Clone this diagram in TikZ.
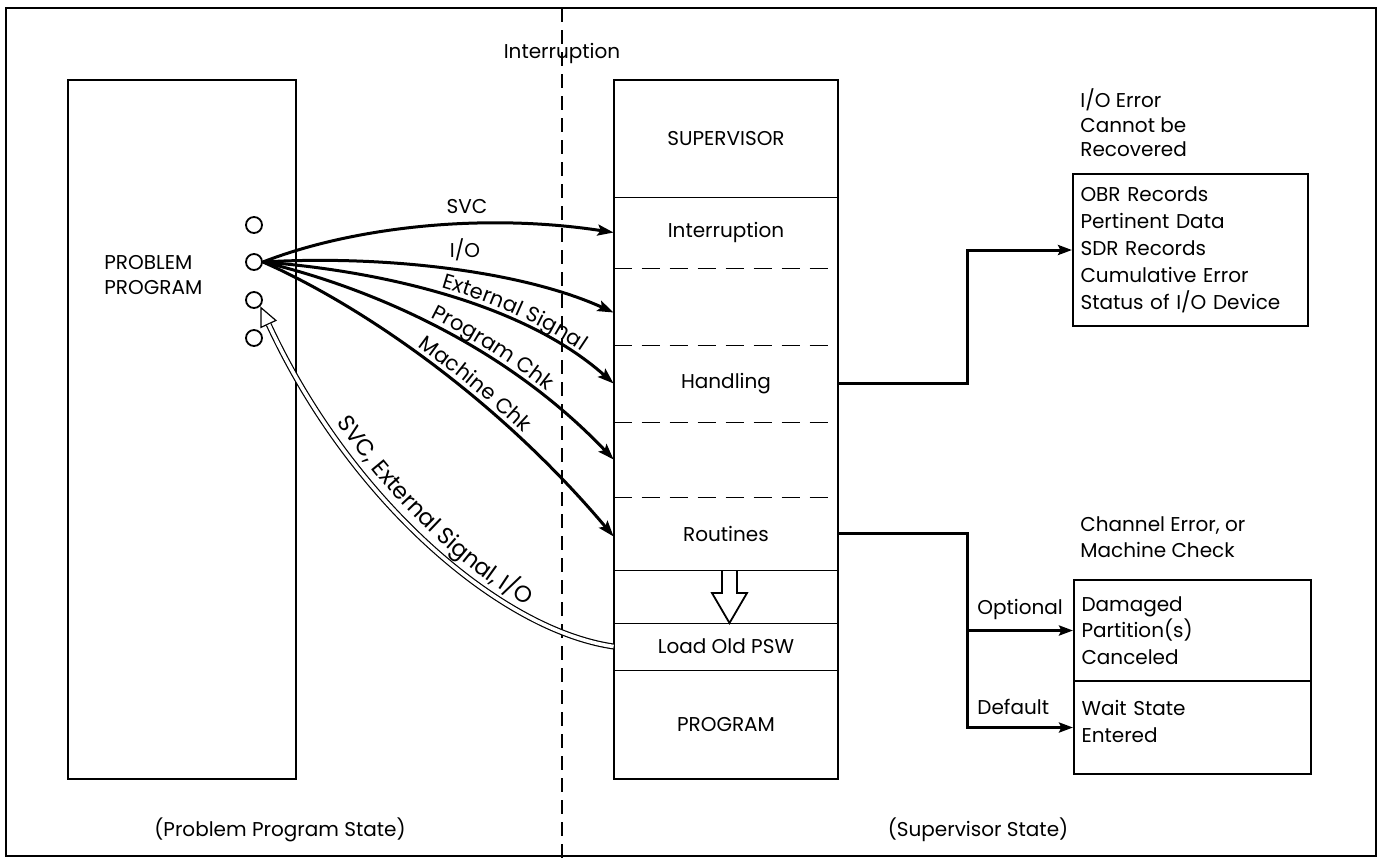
\documentclass[tikz,border=0pt]{standalone}
\usepackage{fontspec}
\setmainfont{Poppins}
\usetikzlibrary{arrows.meta,decorations.text}

\newcommand\labfont{\fontsize{10}{12.2}\selectfont}
\newcommand\curvefont{\fontsize{10.5}{12}\selectfont}
\newcommand\retfont{\fontsize{11.5}{13}\selectfont}

\tikzset{
  lab/.style={font=\labfont, inner sep=0pt},
  band/.style={lab, minimum width=112pt, anchor=center},
  sep/.style={line width=0.9pt},
  dsep/.style={line width=0.9pt, dash pattern=on 9pt off 5pt},
  flow/.style={line width=1.5pt, -{Stealth[length=8pt,width=5.5pt,inset=1.5pt]}},
  conn/.style={line width=1.5pt},
  tip/.style={-{Stealth[length=7pt,width=5pt,inset=1.2pt]}},
  port/.style={circle, draw, line width=0.9pt, minimum size=8pt, inner sep=0pt},
  box/.style={draw, line width=1pt},
  textbox/.style={box, anchor=north west, align=left, inner xsep=3.5pt, font=\labfont},
  curvelabel/.style={decorate, decoration={text along path, text align={left, left indent=#1}, raise=3pt}},
}

\begin{document}
\begin{tikzpicture}[x=0.5pt, y=-0.5pt]
\useasboundingbox (0,0) rectangle (1382,859);

% outer frame and the state divider
\draw[line width=1.2pt] (6,8) rectangle (1376,856);
\draw[line width=1pt, dash pattern=on 7pt off 4pt] (562,8) -- (562,859);
\node[lab] (tint) at (562,53) {Interruption};

% problem program
\node[box, minimum width=114pt, minimum height=349.5pt] (pp) at (182,429.5) {};
\node[lab, align=left, anchor=west] (ppt) at (104,275) {PROBLEM\\PROGRAM};
\node[port] (c1) at (254,225) {};
\node[port] (c2) at (254,262) {};
\node[port] (c3) at (254,300) {};
\node[port] (c4) at (254,338) {};

% supervisor stack
\node[band, minimum height=58.5pt] (bsup)  at (726,138.5) {SUPERVISOR};
\node[band, minimum height=35.5pt] (bint)  at (726,232.5) {Interruption};
\node[band, minimum height=38.5pt] (bio)   at (726,306.5) {};
\node[band, minimum height=38.5pt] (bhand) at (726,383.5) {Handling};
\node[band, minimum height=37.5pt] (bpc)   at (726,459.5) {};
\node[band, minimum height=36.5pt] (brout) at (726,533.5) {Routines};
\node[band, minimum height=26.5pt] (bgap)  at (726,596.5) {};
\node[band, minimum height=23.5pt] (bpsw)  at (726,646.5) {Load Old PSW};
\node[band, minimum height=54.5pt] (bprog) at (726,724.5) {PROGRAM};

\draw[box] (bsup.north west) rectangle (bprog.south east);
\draw[sep]  (bsup.south west)  -- (bsup.south east);
\draw[dsep] (bint.south west)  -- (bint.south east);
\draw[dsep] (bio.south west)   -- (bio.south east);
\draw[dsep] (bhand.south west) -- (bhand.south east);
\draw[dsep] (bpc.south west)   -- (bpc.south east);
\draw[sep]  (brout.south west) -- (brout.south east);
\draw[sep]  (bgap.south west)  -- (bgap.south east);
\draw[sep]  (bpsw.south west)  -- (bpsw.south east);

% hollow arrow down to Load Old PSW
\draw[line width=0.9pt, fill=white]
  (722,571) -- (722,593) -- (712,593) -- (729.5,623) -- (747,593) -- (737,593) -- (737,571);

% interruption arrows
\draw[flow] (c2.east) .. controls (350,228) and (480,212) .. (bint.west);
\draw[flow] (c2.east) .. controls (380,255) and (520,270) .. ([yshift=-3pt]bio.west);
\draw[flow] (c2.east) .. controls (370,270) and (520,300) .. (bhand.west);
\draw[flow] (c2.east) .. controls (360,285) and (500,340) .. (bpc.west);
\draw[flow] (c2.east) .. controls (350,300) and (490,390) .. ([yshift=-1.5pt]brout.west);

\node[lab] (lsvc) at (467,206) {SVC};
\node[lab] (lio) at (465,250) {I/O};
\path[curvelabel=90pt, decoration={text={|\curvefont|External Signal}}]
  (c2.east) .. controls (370,270) and (520,300) .. (bhand.west);
\path[curvelabel=88pt, decoration={text={|\curvefont|Program Chk}}]
  (c2.east) .. controls (360,285) and (500,340) .. (bpc.west);
\path[curvelabel=88pt, decoration={text={|\curvefont|Machine Chk}}]
  (c2.east) .. controls (350,300) and (490,390) .. ([yshift=-1.5pt]brout.west);

% return to the problem program
\draw[line width=0.6pt, -{Triangle[open, length=10pt, width=9pt]}]
  (bpsw.west) .. controls (500,630) and (350,500) .. (c3.south east);
\draw[double, double distance=1.8pt, line width=0.6pt, shorten >=10pt]
  (bpsw.west) .. controls (500,630) and (350,500) .. (c3.south east);
\path[decorate, decoration={text along path, text={|\retfont|SVC, External Signal, I/O},
    text align={left, left indent=70pt}, raise=4.5pt}]
  (c3.south east) .. controls (350,500) and (500,630) .. (bpsw.west);

% I/O error recording
\node[lab, align=left, anchor=north west, font=\fontsize{10}{12.4}\selectfont] (iot) at (1080,88) {I/O Error\\Cannot be\\Recovered};
\node[textbox, minimum width=117.5pt, minimum height=76pt, text width=110pt,
      font=\fontsize{10}{13.5}\selectfont] (iobox) at (1072,173)
  {OBR Records\\Pertinent Data\\SDR Records\\Cumulative Error\\Status of I/O Device};

\coordinate (jn) at (967,0);
\draw[conn, tip] (bhand.east) -| (jn |- iobox.west) -- (iobox.west);

% channel error / machine check
\node[lab, align=left, anchor=north west, font=\fontsize{10}{13.3}\selectfont] (cht) at (1080,516) {Channel Error, or\\Machine Check};
\node[textbox, minimum width=118.5pt, minimum height=50.5pt, text width=111pt,
      font=\fontsize{10}{13.3}\selectfont] (chA) at (1073,579)
  {Damaged\\Partition(s)\\Canceled};
\node[textbox, minimum width=118.5pt, minimum height=46.5pt, text width=111pt,
      font=\fontsize{10}{13.3}\selectfont] (chB) at (1073,680)
  {Wait State\\Entered\\[-7.3pt]\mbox{}};

\draw[conn, tip] (brout.east) -| (jn |- chB.west) -- (chB.west);
\draw[conn, tip] (jn |- chA.west) -- (chA.west);
\node[lab, anchor=west] (lopt) at (977,609) {Optional};
\node[lab, anchor=west] (ldef) at (977,707) {Default};

% state captions
\node[lab] (pps) at (280,830) {(Problem Program State)};
\node[lab] (sps) at (978,830) {(Supervisor State)};
\end{tikzpicture}
\end{document}
